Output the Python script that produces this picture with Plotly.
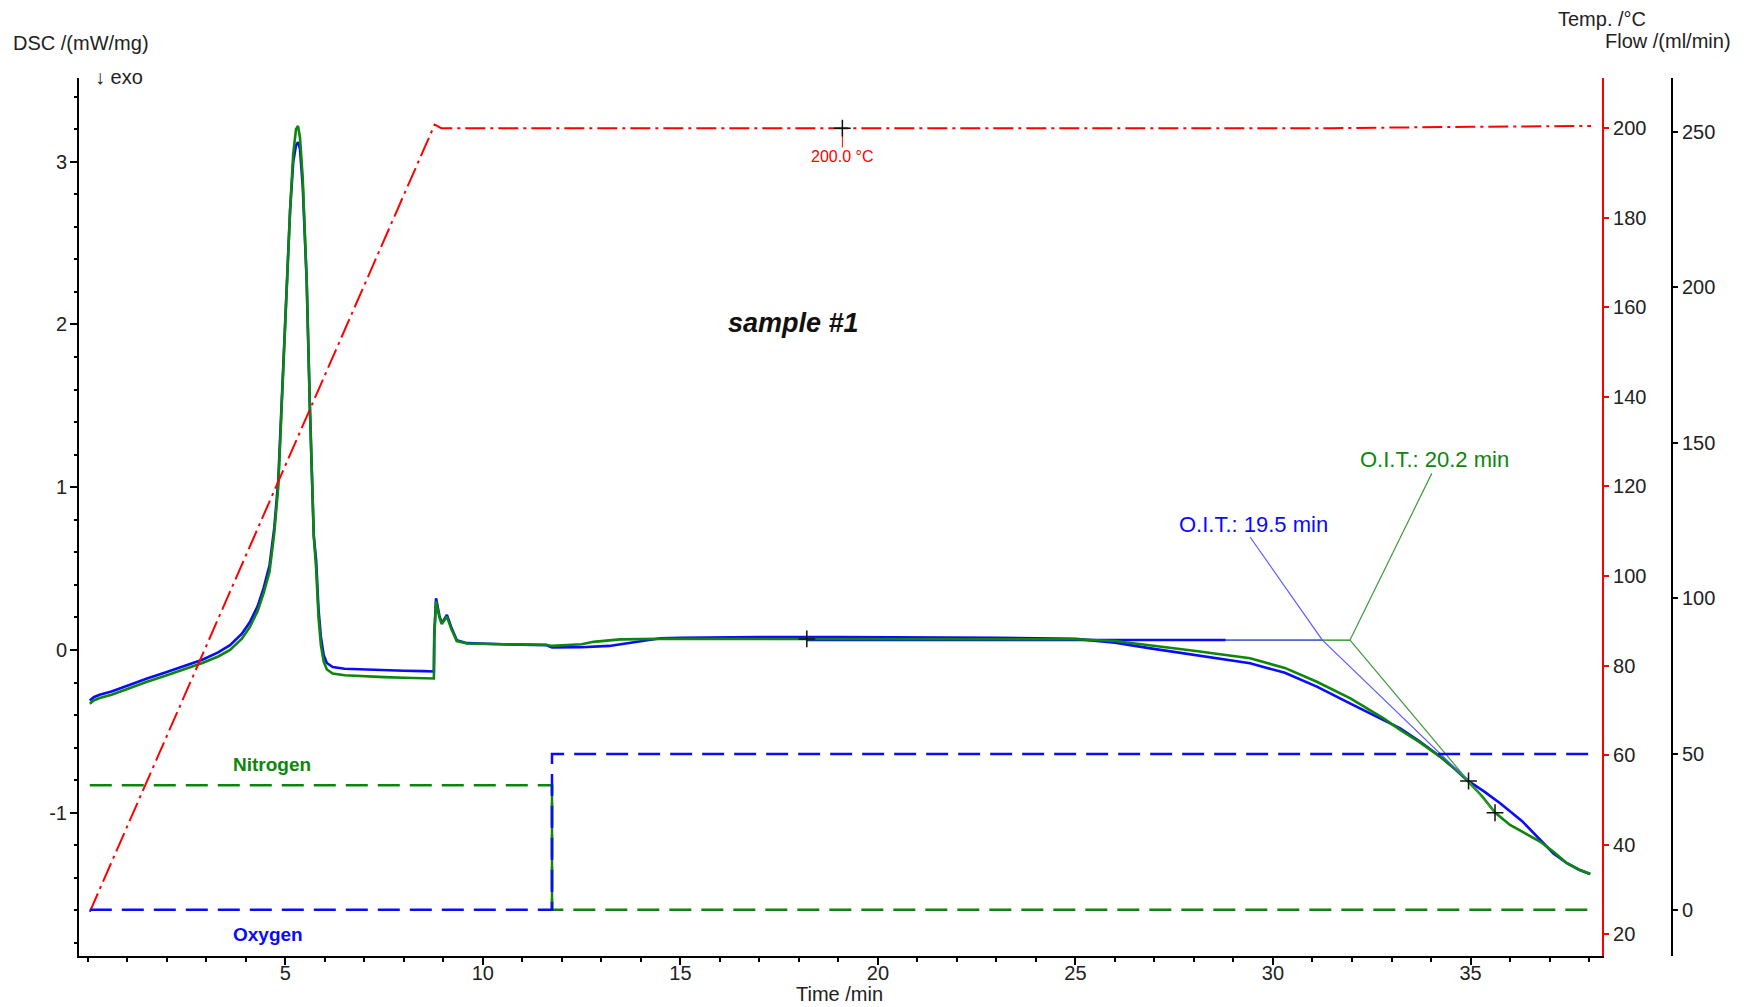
import plotly.graph_objects as go

# ---------------- DSC signals (mW/mg) ----------------
time_blue = [0.05, 0.15, 0.3, 0.6, 1.0, 1.5, 2.0, 2.5, 2.9, 3.3, 3.6, 3.9, 4.1, 4.3, 4.45,
             4.6, 4.72, 4.82, 4.92, 5.03, 5.12, 5.2, 5.27, 5.32, 5.37, 5.44, 5.54, 5.62,
             5.67, 5.72, 5.78, 5.84, 5.9, 5.97, 6.05, 6.2, 6.5, 7.0, 7.5, 8.0, 8.5, 8.76,
             8.77, 8.815, 8.9, 8.96, 9.09, 9.2, 9.34, 9.6, 10.5, 11.6, 11.75, 12.5, 13.2,
             13.8, 14.5, 15.0, 17.0, 19.0, 21.0, 23.0, 25.0, 26.0, 26.9, 28.0, 29.42,
             30.3, 31.11, 31.96, 32.8, 33.22, 33.7, 34.23, 34.6, 34.95, 35.35, 35.75,
             36.3, 36.76, 37.1, 37.44, 37.75, 38.03]
dsc_blue = [-0.31, -0.29, -0.275, -0.255, -0.22, -0.175, -0.135, -0.095, -0.06, -0.015,
            0.03, 0.1, 0.17, 0.27, 0.38, 0.52, 0.75, 1.04, 1.6, 2.27, 2.7, 3.0, 3.1, 3.12,
            3.08, 2.85, 2.27, 1.5, 1.04, 0.7, 0.55, 0.25, 0.08, -0.03, -0.08, -0.105,
            -0.115, -0.12, -0.125, -0.128, -0.13, -0.132, 0.1, 0.318, 0.21, 0.165, 0.215,
            0.14, 0.06, 0.042, 0.035, 0.03, 0.016, 0.017, 0.025, 0.045, 0.072, 0.075,
            0.08, 0.08, 0.078, 0.075, 0.068, 0.045, 0.01, -0.03, -0.082, -0.14, -0.225,
            -0.33, -0.43, -0.481, -0.56, -0.655, -0.73, -0.805, -0.87, -0.942, -1.05,
            -1.167, -1.25, -1.31, -1.35, -1.376]

time_green = [0.05, 0.15, 0.3, 0.6, 1.0, 1.5, 2.0, 2.5, 2.9, 3.3, 3.6, 3.9, 4.1, 4.3, 4.45,
              4.6, 4.72, 4.82, 4.92, 5.03, 5.12, 5.2, 5.27, 5.32, 5.37, 5.44, 5.54, 5.62,
              5.67, 5.72, 5.78, 5.84, 5.9, 5.97, 6.05, 6.2, 6.5, 7.0, 7.5, 8.0, 8.5, 8.76,
              8.77, 8.815, 8.9, 8.96, 9.09, 9.2, 9.34, 9.6, 10.5, 11.6, 11.75, 12.5, 12.8,
              13.47, 14.5, 15.0, 17.0, 19.0, 21.0, 23.0, 25.0, 26.0, 26.9, 28.0, 29.42,
              30.3, 31.11, 31.96, 32.8, 33.22, 33.7, 34.23, 34.6, 34.95, 35.3, 35.62,
              36.0, 36.4, 36.76, 37.1, 37.44, 37.75, 38.03]
dsc_green = [-0.33, -0.31, -0.295, -0.275, -0.24, -0.195, -0.155, -0.115, -0.08, -0.04,
             0.0, 0.07, 0.14, 0.24, 0.35, 0.48, 0.72, 1.0, 1.55, 2.22, 2.7, 3.05, 3.2,
             3.22, 3.15, 2.9, 2.27, 1.5, 1.04, 0.7, 0.5, 0.2, 0.03, -0.07, -0.12, -0.145,
             -0.155, -0.162, -0.167, -0.171, -0.174, -0.175, 0.08, 0.3, 0.2, 0.16, 0.205,
             0.13, 0.055, 0.04, 0.035, 0.032, 0.025, 0.035, 0.05, 0.065, 0.068, 0.068,
             0.07, 0.07, 0.068, 0.067, 0.066, 0.055, 0.03, -0.005, -0.051, -0.11, -0.195,
             -0.297, -0.42, -0.491, -0.565, -0.655, -0.73, -0.81, -0.9, -0.999, -1.075,
             -1.13, -1.177, -1.24, -1.31, -1.35, -1.376]

# ---------------- temperature programme (°C) ----------------
temp_time = [0.05, 8.78, 8.95, 31.5, 35.0, 38.05]
temp_c = [25.0, 200.8, 200.0, 200.0, 200.3, 200.5]
iso_temp = 200.0
iso_mark_time = 19.1

# ---------------- purge gas flows (ml/min) ----------------
run_start = 0.05
run_end = 38.05
gas_switch = 11.75
nitrogen_flow = 40
oxygen_flow = 50

# ---------------- OIT evaluation ----------------
baseline_dsc = 0.061
baseline_start = 18.2
baseline_thick_end = 28.8
oit_blue = 19.5
oit_green = 20.2
tangent_time_blue, tangent_dsc_blue = 34.95, -0.805
tangent_time_green, tangent_dsc_green = 35.62, -1.0

# axis tick labels
dsc_ticks = [-1, 0, 1, 2, 3]
dsc_ticktext = ["-1", "0", "1", "2", "3"]
time_ticks = [5, 10, 15, 20, 25, 30, 35]

BLUE = "#0a0aff"
GREEN = "#0c860c"
RED = "#ff0000"
TXT = "#222222"
FONT = "Liberation Sans, Arial, sans-serif"

fig = go.Figure()

# gas flows (dashed steps)
n_t = [run_start, gas_switch, gas_switch, run_end]
n_f = [nitrogen_flow, nitrogen_flow, 0, 0]
o_t = [run_start, gas_switch, gas_switch, run_end]
o_f = [0, 0, oxygen_flow, oxygen_flow]
fig.add_trace(go.Scatter(x=n_t, y=n_f, yaxis="y3", mode="lines",
                         line=dict(color=GREEN, width=2.5, dash="22px,10px")))
fig.add_trace(go.Scatter(x=[gas_switch, gas_switch], y=[nitrogen_flow, 0], yaxis="y3",
                         mode="lines", line=dict(color=GREEN, width=2.5)))
fig.add_trace(go.Scatter(x=o_t, y=o_f, yaxis="y3", mode="lines",
                         line=dict(color=BLUE, width=2.5, dash="22px,10px")))

# baselines and tangents for the onset construction
x_int_blue = gas_switch + oit_blue
x_int_green = gas_switch + oit_green
fig.add_trace(go.Scatter(x=[baseline_start, x_int_green], y=[baseline_dsc, baseline_dsc],
                         mode="lines", line=dict(color=GREEN, width=1.2)))
fig.add_trace(go.Scatter(x=[baseline_thick_end, x_int_blue], y=[baseline_dsc, baseline_dsc],
                         mode="lines", line=dict(color="#5a5aff", width=1.2)))
fig.add_trace(go.Scatter(x=[baseline_start, baseline_thick_end], y=[baseline_dsc, baseline_dsc],
                         mode="lines", line=dict(color=BLUE, width=2.5)))

# DSC curves
fig.add_trace(go.Scatter(x=time_blue, y=dsc_blue, mode="lines",
                         line=dict(color=BLUE, width=2.6)))
fig.add_trace(go.Scatter(x=time_green, y=dsc_green, mode="lines",
                         line=dict(color=GREEN, width=2.6)))

fig.add_trace(go.Scatter(x=[x_int_blue, tangent_time_blue], y=[baseline_dsc, tangent_dsc_blue],
                         mode="lines", line=dict(color="#5a5aff", width=1.2)))
fig.add_trace(go.Scatter(x=[x_int_green, tangent_time_green], y=[baseline_dsc, tangent_dsc_green],
                         mode="lines", line=dict(color="#3c9a3c", width=1.2)))

# leader lines from the OIT labels
fig.add_trace(go.Scatter(x=[29.42, x_int_blue], y=[0.694, baseline_dsc], mode="lines",
                         line=dict(color="#5a5aff", width=1.2)))
fig.add_trace(go.Scatter(x=[34.02, x_int_green], y=[1.085, baseline_dsc], mode="lines",
                         line=dict(color="#3c9a3c", width=1.2)))

# temperature
fig.add_trace(go.Scatter(x=temp_time, y=temp_c, yaxis="y2", mode="lines",
                         line=dict(color=RED, width=2, dash="20px,5px,3px,5px")))
fig.add_trace(go.Scatter(x=[iso_mark_time, iso_mark_time], y=[iso_temp, iso_temp - 4.3],
                         yaxis="y2", mode="lines", line=dict(color=RED, width=1)))

# evaluation markers
fig.add_trace(go.Scatter(x=[baseline_start, tangent_time_blue, tangent_time_green],
                         y=[0.068, tangent_dsc_blue, tangent_dsc_green], mode="markers",
                         marker=dict(symbol="cross-thin", size=12,
                                     line=dict(color="#111111", width=1.5))))
fig.add_trace(go.Scatter(x=[iso_mark_time], y=[iso_temp], yaxis="y2", mode="markers",
                         marker=dict(symbol="cross-thin", size=12,
                                     line=dict(color="#111111", width=1.5))))

tickfont = dict(family=FONT, size=20, color=TXT)

fig.update_layout(
    width=1748, height=1007,
    margin=dict(l=79, r=76, t=78, b=51),
    paper_bgcolor="white", plot_bgcolor="white",
    showlegend=False,
    font=dict(family=FONT, color=TXT),
    xaxis=dict(domain=[0, 0.9561], range=[-0.223, 38.33], showgrid=False, zeroline=False,
               showline=True, linecolor="black", linewidth=2,
               ticks="outside", ticklen=7, tickwidth=1.5, tickcolor="black",
               tickvals=time_ticks, tickfont=tickfont, ticklabelstandoff=-9,
               minor=dict(ticks="outside", dtick=1, tick0=0, ticklen=4, tickwidth=1.5,
                          tickcolor="black")),
    yaxis=dict(range=[-1.880, 3.514], showgrid=False, zeroline=False,
               showline=True, linecolor="black", linewidth=2,
               ticks="outside", ticklen=7, tickwidth=1.5, tickcolor="black",
               tickvals=dsc_ticks, ticktext=dsc_ticktext, tickfont=tickfont,
               ticklabelstandoff=-1,
               minor=dict(ticks="outside", dtick=0.2, tick0=0, ticklen=3, tickwidth=1.5,
                          tickcolor="black")),
    yaxis2=dict(overlaying="y", side="right", anchor="x", range=[15.13, 211.2],
                showgrid=False, zeroline=False, showline=True, linecolor=RED, linewidth=2,
                ticks="outside", ticklen=5, tickwidth=1.5, tickcolor=RED,
                tick0=0, dtick=20, tickfont=tickfont),
    yaxis3=dict(overlaying="y", side="right", anchor="free", position=1.0,
                range=[-14.87, 267.2], showgrid=False, zeroline=False, showline=True,
                linecolor="black", linewidth=2, ticks="outside", ticklen=5,
                tickwidth=1.5, tickcolor="black", tick0=0, dtick=50, tickfont=tickfont),
)

ann = [
    dict(text="DSC /(mW/mg)", xref="paper", yref="paper", x=-0.0427, y=1.0399,
         xanchor="left", yanchor="middle", font=dict(size=20)),
    dict(text="↓ exo", xref="paper", yref="paper", x=0.0088, y=1.001,
         xanchor="left", yanchor="middle", font=dict(size=20)),
    dict(text="Temp. /°C", xref="paper", yref="paper", x=0.9849, y=1.0672,
         xanchor="right", yanchor="middle", font=dict(size=20)),
    dict(text="Flow /(ml/min)", xref="paper", yref="paper", x=1.0383, y=1.0421,
         xanchor="right", yanchor="middle", font=dict(size=20)),
    dict(text="Time /min", xref="paper", yref="paper", x=0.4777, y=-0.0433,
         xanchor="center", yanchor="middle", font=dict(size=20)),
    dict(text="<b><i>sample #1</i></b>", xref="x", yref="y", x=17.86, y=2.01,
         xanchor="center", yanchor="middle", font=dict(size=27, color="#111111")),
    dict(text="<b>Nitrogen</b>", xref="x", yref="y3", x=4.67, y=46.8,
         xanchor="center", yanchor="middle", font=dict(size=19, color=GREEN)),
    dict(text="<b>Oxygen</b>", xref="x", yref="y3", x=4.56, y=-8.1,
         xanchor="center", yanchor="middle", font=dict(size=19, color=BLUE)),
    dict(text=f"O.I.T.: {oit_blue} min", xref="x", yref="y", x=27.57, y=0.768,
         xanchor="left", yanchor="middle", font=dict(size=22, color=BLUE)),
    dict(text=f"O.I.T.: {oit_green} min", xref="x", yref="y", x=32.16, y=1.173,
         xanchor="left", yanchor="middle", font=dict(size=22, color=GREEN)),
    dict(text=f"{iso_temp:.1f} °C", xref="x", yref="y2", x=iso_mark_time, y=193.7,
         xanchor="center", yanchor="middle", font=dict(size=16, color=RED)),
]
for a in ann:
    a["showarrow"] = False
    fig.add_annotation(**a)

fig.write_html("out.html")
